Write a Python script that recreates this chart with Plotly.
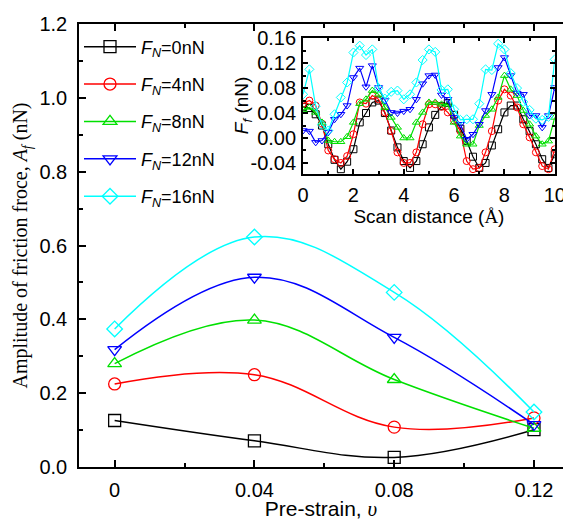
import plotly.graph_objects as go

# ---------------- main plot data ----------------
strain = [0, 0.04, 0.08, 0.12]
amp_0nN = [0.126, 0.071, 0.026, 0.101]
amp_4nN = [0.225, 0.250, 0.108, 0.133]
amp_8nN = [0.280, 0.398, 0.237, 0.105]
amp_12nN = [0.318, 0.514, 0.351, 0.115]
amp_16nN = [0.374, 0.623, 0.473, 0.149]

# ---------------- inset data ----------------
scan = [0, 0.25, 0.5, 0.75, 1, 1.25, 1.5, 1.75, 2, 2.25, 2.5, 2.75, 3, 3.25, 3.5, 3.75,
        4, 4.25, 4.5, 4.75, 5, 5.25, 5.5, 5.75, 6, 6.25, 6.5, 6.75, 7, 7.25, 7.5, 7.75,
        8, 8.25, 8.5, 8.75, 9, 9.25, 9.5, 9.75, 10]
ff_0nN = [0.050, 0.048, 0.038, 0.020, -0.010, -0.035, -0.050, -0.038, -0.018, 0.025, 0.040,
          0.057, 0.060, 0.040, 0.012, -0.015, -0.037, -0.048, -0.037, -0.010, 0.017,
          0.037, 0.051, 0.056, 0.037, 0.015, -0.005, -0.030, -0.048, -0.040, -0.012,
          0.014, 0.041, 0.052, 0.052, 0.030, 0.011, -0.010, -0.034, -0.048, -0.026]
ff_4nN = [0.055, 0.060, 0.052, 0.023, -0.020, -0.034, -0.040, -0.029, 0.006, 0.057, 0.055,
          0.068, 0.062, 0.041, 0.011, -0.023, -0.040, -0.040, -0.023, 0.022, 0.054,
          0.054, 0.050, 0.041, 0.028, 0.011, -0.037, -0.050, -0.048, -0.023, 0.011,
          0.060, 0.078, 0.068, 0.049, 0.022, 0.001, -0.023, -0.045, -0.050, -0.018]
ff_8nN = [0.045, 0.049, 0.041, 0.025, -0.004, -0.006, -0.006, 0.002, 0.025, 0.055, 0.062,
          0.076, 0.070, 0.049, 0.033, 0.017, 0.000, 0.000, 0.025, 0.041, 0.057,
          0.057, 0.054, 0.054, 0.025, 0.003, -0.010, -0.010, 0.020, 0.036, 0.046,
          0.065, 0.100, 0.078, 0.068, 0.044, 0.022, 0.003, -0.010, -0.005, 0.033]
ff_12nN = [0.012, 0.011, -0.007, -0.004, 0.009, 0.030, 0.038, 0.052, 0.097, 0.112, 0.082,
           0.116, 0.081, 0.060, 0.041, 0.040, 0.043, 0.046, 0.062, 0.087, 0.100,
           0.101, 0.069, 0.062, 0.033, 0.022, -0.002, 0.006, 0.022, 0.044, 0.070,
           0.113, 0.129, 0.100, 0.072, 0.070, 0.036, 0.036, 0.017, 0.036, 0.081]
ff_16nN = [0.070, 0.110, 0.051, 0.021, 0.012, 0.038, 0.065, 0.089, 0.137, 0.148, 0.133,
           0.142, 0.080, 0.063, 0.074, 0.076, 0.062, 0.070, 0.089, 0.125, 0.142,
           0.138, 0.077, 0.078, 0.046, 0.029, 0.030, 0.030, 0.055, 0.110, 0.109,
           0.151, 0.142, 0.104, 0.080, 0.058, 0.045, 0.031, 0.029, 0.034, 0.126]

labels = ["0nN", "4nN", "8nN", "12nN", "16nN"]
colors = ["#000000", "#FF0000", "#00E000", "#0000FF", "#00FFFF"]
symbols = ["square-open", "circle-open", "triangle-up-open", "triangle-down-open", "diamond-open"]
main_sets = [amp_0nN, amp_4nN, amp_8nN, amp_12nN, amp_16nN]
inset_sets = [ff_0nN, ff_4nN, ff_8nN, ff_12nN, ff_16nN]

SANS = "Liberation Sans, Arial, sans-serif"
SERIF = "Liberation Serif, Times New Roman, serif"

fig = go.Figure()

for i in range(5):
    fig.add_trace(go.Scatter(
        x=strain, y=main_sets[i], mode="lines+markers",
        name="<i>F</i><sub><i>N</i></sub>=" + labels[i],
        line=dict(color=colors[i], width=1.5, shape="spline", smoothing=1.1),
        marker=dict(symbol=symbols[i], size=12, color=colors[i], line=dict(width=1.3, color=colors[i])),
        legendgroup="g%d" % i, xaxis="x", yaxis="y",
    ))

for i in range(5):
    fig.add_trace(go.Scatter(
        x=scan, y=inset_sets[i], mode="lines+markers", showlegend=False,
        line=dict(color=colors[i], width=1.2),
        marker=dict(symbol=symbols[i], size=7, color=colors[i], line=dict(width=1, color=colors[i])),
        xaxis="x2", yaxis="y2",
    ))

fig.update_layout(
    width=563, height=521,
    margin=dict(l=79, r=0, t=24, b=54, autoexpand=False),
    paper_bgcolor="white", plot_bgcolor="white",
    font=dict(family=SANS, size=20, color="black"),
    showlegend=True,
    legend=dict(x=0.0, y=0.99, xanchor="left", yanchor="top",
                bgcolor="rgba(0,0,0,0)", font=dict(family=SANS, size=18),
                tracegroupgap=11, traceorder="grouped", itemwidth=52),
    xaxis=dict(
        domain=[0, 1], range=[-0.0102, 0.1283], automargin=False,
        showline=True, linecolor="black", linewidth=1.5, mirror="ticks",
        ticks="inside", ticklen=7, tickwidth=1.5, tickcolor="black",
        tickvals=strain, ticktext=["0", "0.04", "0.08", "0.12"],
        minor=dict(tickvals=[0.02, 0.06, 0.10], ticks="inside", ticklen=4, tickwidth=1.5, tickcolor="black"),
        showgrid=False, zeroline=False, ticklabelstandoff=4, ticklabeloverflow="allow",
        tickfont=dict(size=20),
        title=dict(text='Pre-strain, <span style="font-family:Liberation Serif"><i>υ</i></span>',
                   font=dict(size=21), standoff=8),
    ),
    yaxis=dict(
        domain=[0, 1], range=[0, 1.2], automargin=False,
        showline=True, linecolor="black", linewidth=1.5, mirror=False,
        ticks="inside", ticklen=7, tickwidth=1.5, tickcolor="black",
        tick0=0, dtick=0.2, tickformat=".1f",
        minor=dict(tick0=0, dtick=0.1, ticks="inside", ticklen=4, tickwidth=1.5, tickcolor="black"),
        showgrid=False, zeroline=False, ticklabelstandoff=6,
        tickfont=dict(size=20),
        title=dict(text="Amplitude of friction froce, <i>A</i><sub><i>f</i></sub> (nN)",
                   font=dict(family=SERIF, size=20), standoff=6),
    ),
    xaxis2=dict(
        domain=[0.463, 0.983], anchor="y2", range=[0, 10], automargin=False,
        showline=True, linecolor="black", linewidth=2, mirror="ticks",
        ticks="inside", ticklen=5, tickwidth=1.5, tickcolor="black",
        tick0=0, dtick=2, ticklabeloverflow="allow",
        minor=dict(tick0=0, dtick=1, ticks="inside", ticklen=3, tickwidth=1.5, tickcolor="black"),
        showgrid=False, zeroline=False, ticklabelstandoff=2,
        tickfont=dict(size=20),
        title=dict(text='Scan distance (<span style="font-family:Liberation Serif">Å</span>)',
                   font=dict(size=19), standoff=0),
    ),
    yaxis2=dict(
        domain=[0.661, 0.968], anchor="x2", range=[-0.058, 0.16], automargin=False,
        showline=True, linecolor="black", linewidth=2, mirror="ticks",
        ticks="inside", ticklen=5, tickwidth=1.5, tickcolor="black",
        tickvals=[-0.04, 0.0, 0.04, 0.08, 0.12, 0.16],
        ticktext=["-0.04", "0.00", "0.04", "0.08", "0.12", "0.16"],
        minor=dict(tickvals=[-0.02, 0.02, 0.06, 0.10, 0.14], ticks="inside", ticklen=3,
                   tickwidth=1.5, tickcolor="black"),
        showgrid=False, zeroline=False, ticklabelstandoff=1,
        tickfont=dict(size=20),
    ),
    annotations=[dict(
        text="<i>F</i><sub><i>f</i></sub> (nN)", textangle=-90,
        xref="paper", yref="paper", x=0.339, y=0.817, xanchor="center", yanchor="middle",
        showarrow=False, font=dict(family=SANS, size=19),
    )],
)

fig.write_html(
    "out.html",
    config={"displayModeBar": False},
    post_script="document.body.style.margin='0';document.body.style.padding='0';"
                "document.body.style.overflow='hidden';",
)
